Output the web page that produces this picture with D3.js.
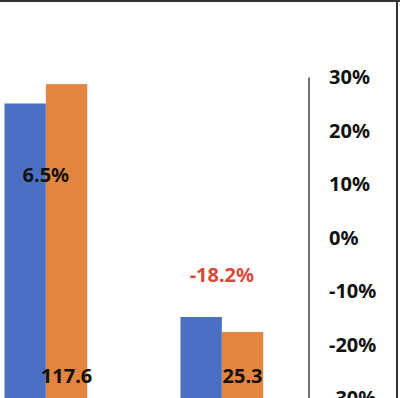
<!DOCTYPE html>
<html>
<head>
<meta charset="utf-8">
<script src="https://cdn.jsdelivr.net/npm/d3@7"></script>
<style>
  html, body { margin: 0; padding: 0; background: #fff; }
  .chart text { font-family: "Noto Sans", "DejaVu Sans", sans-serif; font-weight: 700; }
</style>
</head>
<body>
<div class="js-container chart"></div>
<script>
;(function() {
  'use strict';

  // Two groups, previous period (blue) and current period (orange).
  var categories = ['Group 1', 'Group 2'];
  var series = ['previous', 'current'];
  var previousValues = [110.4, 30.9];
  var currentValues = [117.6, 25.3];
  var growthRates = [6.5, -18.2];
  var rateTicks = [-30, -20, -10, 0, 10, 20, 30];

  var colors = { previous: '#4a70c4', current: '#e3843f' };

  var W = 400, H = 398;

  var svg = d3.select('.js-container').append('svg')
      .attr('width', W)
      .attr('height', H);

  var x = d3.scaleBand()
      .domain(categories)
      .range([4.5, 263.2])
      .paddingInner(0.53)
      .paddingOuter(0);

  var xSeries = d3.scaleBand()
      .domain(series)
      .range([0, x.bandwidth()]);

  var yLeft = d3.scaleLinear().domain([0, 140]).range([400, 24]);
  var yRight = d3.scaleLinear().domain([-30, 30]).range([398.5, 77.5]);

  var rows = categories.map(function(c, i) {
    return { cat: c, previous: previousValues[i], current: currentValues[i], rate: growthRates[i] };
  });

  // bars
  var groups = svg.selectAll('.group')
      .data(rows)
    .enter().append('g')
      .attr('class', 'group')
      .attr('transform', function(d) { return 'translate(' + x(d.cat) + ',0)'; });

  groups.selectAll('rect')
      .data(function(d) { return series.map(function(s) { return { key: s, value: d[s] }; }); })
    .enter().append('rect')
      .attr('x', function(d) { return xSeries(d.key); })
      .attr('y', function(d) { return yLeft(d.value); })
      .attr('width', xSeries.bandwidth())
      .attr('height', function(d) { return yLeft(0) - yLeft(d.value); })
      .attr('fill', function(d) { return colors[d.key]; });

  // value labels on the current-period bars, near the base
  groups.append('text')
      .attr('x', xSeries('current') + xSeries.bandwidth() / 2)
      .attr('y', yLeft(0) - 17)
      .attr('text-anchor', 'middle')
      .attr('font-size', 20)
      .attr('fill', '#111')
      .text(function(d) { return d.current.toFixed(1); });

  // growth labels, placed on the right-axis scale
  var rateLabelAt = [10.5, -8.2];
  groups.append('text')
      .attr('x', x.bandwidth() / 2)
      .attr('y', function(d, i) { return yRight(rateLabelAt[i]); })
      .attr('text-anchor', 'middle')
      .attr('font-size', 20)
      .attr('fill', function(d) { return d.rate < 0 ? '#d9483b' : '#111'; })
      .text(function(d) { return d.rate.toFixed(1) + '%'; });

  // right axis
  var axis = svg.append('g')
      .attr('transform', 'translate(309,0)')
      .call(d3.axisRight(yRight)
        .tickValues(rateTicks)
        .tickSize(0)
        .tickPadding(20)
        .tickFormat(function(d) { return d + '%'; }));

  axis.select('.domain')
      .attr('stroke', '#404040')
      .attr('stroke-width', 1.5)
      .attr('d', 'M0,' + yRight(30) + 'V' + H);

  axis.selectAll('.tick text')
      .attr('font-size', 20)
      .attr('fill', '#111')
      .style('font-family', '"Noto Sans", sans-serif')
      .style('font-weight', 700);

  // frame edges that show in the crop
  svg.append('line')
      .attr('x1', 0).attr('x2', W).attr('y1', 1).attr('y2', 1)
      .attr('stroke', '#333').attr('stroke-width', 2);
  svg.append('line')
      .attr('x1', 397).attr('x2', 397).attr('y1', 0).attr('y2', H)
      .attr('stroke', '#333').attr('stroke-width', 2);

}());
</script>
</body>
</html>
